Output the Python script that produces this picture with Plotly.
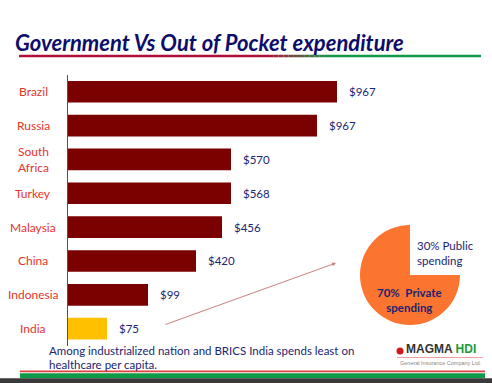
import plotly.graph_objects as go

W, H = 492, 383

# ---- data ----
countries = ["Brazil", "Russia", "South<br>Africa", "Turkey", "Malaysia", "China", "Indonesia", "India"]
spend_labels = ["$967", "$967", "$570", "$568", "$456", "$420", "$99", "$75"]
# displayed bar lengths as drawn in the picture (relative units)
bar_lengths = [269, 249, 163, 163, 154, 128, 80, 39]
bar_colors = ["#7b0000"] * 7 + ["#ffc000"]

pie_labels = ["Public spending", "Private spending"]
pie_values = [25, 75]          # visual share as drawn
pie_texts = ["30% Public<br>spending", "<b>70%  Private<br>spending</b>"]

title_text = "Government Vs Out of Pocket expenditure"
footer_lines = ["Among industrialized nation and BRICS India spends least on",
                "healthcare per capita."]

FONT = "Lato"
NAVY = "#1b2470"
RED = "#e3342b"


def px(x):
    return x / W


def py(y):
    return 1 - y / H


fig = go.Figure()

fig.add_trace(go.Bar(
    y=countries, x=bar_lengths, orientation="h",
    marker=dict(color=bar_colors, line=dict(width=0)),
    hoverinfo="skip", showlegend=False,
))

fig.add_trace(go.Pie(
    labels=pie_labels, values=pie_values, sort=False, direction="clockwise",
    rotation=0, marker=dict(colors=["white", "#fc7530"], line=dict(width=0)),
    textinfo="none", hoverinfo="skip", showlegend=False,
    domain=dict(x=[px(410 - 52), px(410 + 52)], y=[py(275 + 50), py(275 - 50)]),
))

ann = []
# category labels (centered)
for c in countries:
    ann.append(dict(x=px(33), xref="paper", y=c, yref="y", text=c, showarrow=False,
                    xanchor="center", yanchor="middle", align="center",
                    font=dict(family=FONT, size=12, color=RED)))
# value labels
for c, v, t in zip(countries, bar_lengths, spend_labels):
    ann.append(dict(x=v, xref="x", y=c, yref="y", text=t, showarrow=False,
                    xanchor="left", yanchor="middle", xshift=10,
                    font=dict(family=FONT, size=11.5, color=NAVY)))
# title
ann.append(dict(x=px(13), y=py(42), xref="paper", yref="paper", text="<b><i>" + title_text + "</i></b>",
                showarrow=False, xanchor="left", yanchor="middle",
                font=dict(family=FONT, size=22, color="#0d0d6b")))
# footer
for i, line in enumerate(footer_lines):
    ann.append(dict(x=px(47), y=py(350 + 14 * i), xref="paper", yref="paper", text=line,
                    showarrow=False, xanchor="left", yanchor="middle",
                    font=dict(family=FONT, size=11.5, color=NAVY)))
# pie texts
ann.append(dict(x=px(415), y=py(253), xref="paper", yref="paper", text=pie_texts[0],
                showarrow=False, xanchor="left", yanchor="middle", align="left",
                font=dict(family=FONT, size=11.5, color=NAVY)))
ann.append(dict(x=px(409), y=py(299.5), xref="paper", yref="paper", text=pie_texts[1],
                showarrow=False, xanchor="center", yanchor="middle", align="center",
                font=dict(family=FONT, size=11.5, color=NAVY)))
# arrow
ann.append(dict(x=px(336), y=py(263), xref="paper", yref="paper", text="",
                showarrow=True, ax=164 - 336, ay=325 - 263, axref="pixel", ayref="pixel",
                arrowhead=2, arrowsize=0.8, arrowwidth=1, arrowcolor="#c98080"))
# logo
ann.append(dict(x=px(404), y=py(349), xref="paper", yref="paper",
                text="<b><span style='color:#333333'>MAGMA</span> <span style='color:#1a9a3a'>HDI</span></b>",
                showarrow=False, xanchor="left", yanchor="middle",
                font=dict(family="Liberation Sans", size=12)))
ann.append(dict(x=px(440), y=py(363), xref="paper", yref="paper",
                text="General Insurance Company Ltd.", showarrow=False, xanchor="center",
                yanchor="middle", font=dict(family="Liberation Sans", size=5.5, color="#888888")))

shapes = []
# title underline with gradient red -> green
r0, g0, b0 = (0xb0, 0x10, 0x38)
r1, g1, b1 = (0x10, 0x9a, 0x48)
shapes.append(dict(type="line", xref="paper", yref="paper", x0=px(19), x1=px(268), y0=py(56), y1=py(56),
                   line=dict(color="#b01038", width=2.5)))
n = 12
for i in range(n):
    a0 = 268 + (330 - 268) * i / n
    a1 = 268 + (330 - 268) * (i + 1) / n
    f = (i + 0.5) / n
    col = "rgb(%d,%d,%d)" % (r0 + (r1 - r0) * f, g0 + (g1 - g0) * f, b0 + (b1 - b0) * f)
    shapes.append(dict(type="line", xref="paper", yref="paper", x0=px(a0), x1=px(a1), y0=py(56), y1=py(56),
                       line=dict(color=col, width=2.5)))
shapes.append(dict(type="line", xref="paper", yref="paper", x0=px(330), x1=px(481), y0=py(56), y1=py(56),
                   line=dict(color="#109a48", width=2.5)))
# bottom bands
shapes.append(dict(type="rect", xref="paper", yref="paper", x0=px(20), x1=px(485), y0=py(372.3), y1=py(370.5),
                   fillcolor="#e04040", line=dict(width=0)))
shapes.append(dict(type="rect", xref="paper", yref="paper", x0=px(20), x1=px(485), y0=py(378.3), y1=py(373.3),
                   fillcolor="#0e9a48", line=dict(width=0)))
shapes.append(dict(type="rect", xref="paper", yref="paper", x0=0, x1=1, y0=0, y1=py(378.3),
                   fillcolor="#3a3a3a", line=dict(width=0)))
# logo details
shapes.append(dict(type="circle", xref="paper", yref="paper", x0=px(396.5), x1=px(403.5), y0=py(354.5), y1=py(347.5),
                   fillcolor="#d01818", line=dict(width=0)))
shapes.append(dict(type="line", xref="paper", yref="paper", x0=px(397), x1=px(483), y0=py(357.5), y1=py(357.5),
                   line=dict(color="#f0a0a0", width=1)))

fig.update_layout(
    width=W, height=H, margin=dict(l=0, r=0, t=0, b=0),
    paper_bgcolor="white", plot_bgcolor="white",
    bargap=0.36,
    xaxis=dict(domain=[px(68), 1], range=[0, W - 68], visible=False, fixedrange=True),
    yaxis=dict(domain=[py(345.6), py(74.8)], categoryorder="array", categoryarray=countries,
               autorange="reversed", showticklabels=False, showgrid=False, zeroline=False,
               showline=True, linecolor="#8b3a3a", linewidth=1, ticks="", fixedrange=True),
    annotations=ann, shapes=shapes,
)

fig.write_html("out.html", config={"displayModeBar": False},
               post_script="document.body.style.margin='0';document.body.style.overflow='hidden';")
